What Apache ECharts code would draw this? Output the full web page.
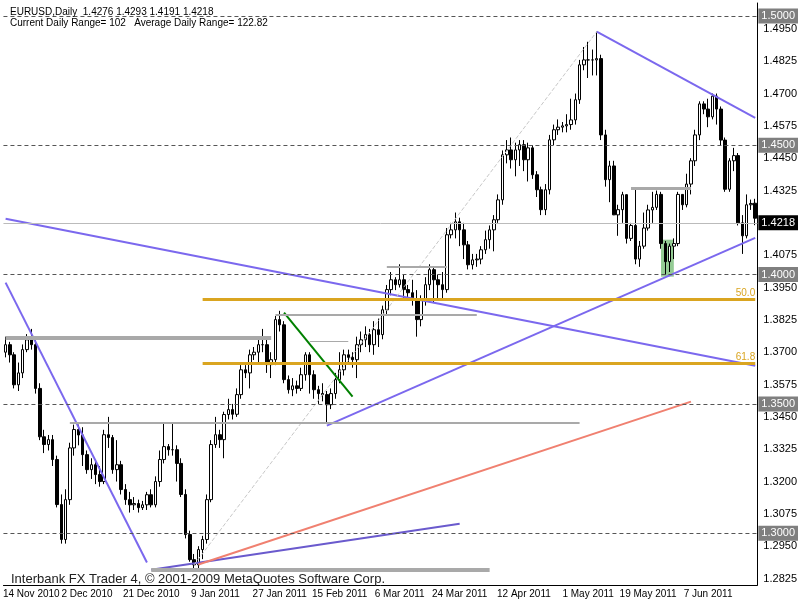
<!DOCTYPE html>
<html><head><meta charset="utf-8">
<script src="https://cdn.jsdelivr.net/npm/echarts@6/dist/echarts.min.js"></script>
<style>html,body{margin:0;padding:0;background:#fff}#c{width:800px;height:600px}</style>
</head><body><div id="c"></div>
<script>
const opens=[1.3700,1.3729,1.3690,1.3574,1.3620,1.3710,1.3748,1.3729,1.3560,1.3373,1.3343,1.3362,1.3285,1.3111,1.2976,1.3130,1.3330,1.3401,1.3380,1.3304,1.3246,1.3265,1.3227,1.3200,1.3381,1.3370,1.3246,1.3265,1.3169,1.3130,1.3110,1.3115,1.3099,1.3110,1.3149,1.3110,1.3200,1.3285,1.3335,1.3323,1.3323,1.3270,1.3150,1.2995,1.2898,1.2878,1.2937,1.2976,1.3130,1.3343,1.3381,1.3362,1.3459,1.3478,1.3460,1.3536,1.3632,1.3620,1.3690,1.3700,1.3729,1.3729,1.3652,1.3671,1.3826,1.3806,1.3594,1.3555,1.3570,1.3560,1.3613,1.3690,1.3613,1.3555,1.3540,1.3536,1.3497,1.3540,1.3594,1.3632,1.3690,1.3680,1.3671,1.3729,1.3748,1.3768,1.3729,1.3787,1.3768,1.3864,1.3942,1.3980,1.3961,1.3980,1.3942,1.3930,1.3903,1.3826,1.3903,1.3961,1.4019,1.3980,1.3961,1.3942,1.4154,1.4173,1.4204,1.4173,1.4115,1.4038,1.4057,1.4060,1.4096,1.4135,1.4173,1.4212,1.4289,1.4463,1.4482,1.4444,1.4482,1.4502,1.4444,1.4490,1.4386,1.4328,1.4251,1.4328,1.4521,1.4560,1.4570,1.4575,1.4580,1.4598,1.4676,1.4811,1.4830,1.4830,1.4830,1.4835,1.4540,1.4367,1.4420,1.4231,1.4251,1.4309,1.4140,1.4190,1.4060,1.4110,1.4180,1.4250,1.4260,1.4310,1.4120,1.4050,1.4110,1.4120,1.4310,1.4270,1.4350,1.4440,1.4540,1.4660,1.4640,1.4610,1.4690,1.4640,1.4520,1.4330,1.4440,1.4460,1.4200,1.4150,1.4270,1.4276];
const closes=[1.3729,1.3690,1.3574,1.3620,1.3710,1.3748,1.3729,1.3560,1.3373,1.3343,1.3362,1.3285,1.3111,1.2976,1.3130,1.3330,1.3401,1.3380,1.3304,1.3246,1.3265,1.3227,1.3200,1.3381,1.3370,1.3246,1.3265,1.3169,1.3130,1.3110,1.3115,1.3099,1.3110,1.3149,1.3110,1.3200,1.3285,1.3335,1.3323,1.3323,1.3270,1.3150,1.2995,1.2898,1.2878,1.2937,1.2976,1.3130,1.3343,1.3381,1.3362,1.3459,1.3478,1.3460,1.3536,1.3632,1.3620,1.3690,1.3700,1.3729,1.3729,1.3652,1.3671,1.3826,1.3806,1.3594,1.3555,1.3570,1.3560,1.3613,1.3690,1.3613,1.3555,1.3540,1.3536,1.3497,1.3540,1.3594,1.3632,1.3690,1.3680,1.3671,1.3729,1.3748,1.3768,1.3729,1.3787,1.3768,1.3864,1.3942,1.3980,1.3961,1.3980,1.3942,1.3930,1.3903,1.3826,1.3903,1.3961,1.4019,1.3980,1.3961,1.3942,1.4154,1.4173,1.4204,1.4173,1.4115,1.4038,1.4057,1.4060,1.4096,1.4135,1.4173,1.4212,1.4289,1.4463,1.4482,1.4444,1.4482,1.4502,1.4444,1.4490,1.4386,1.4328,1.4251,1.4328,1.4521,1.4560,1.4570,1.4575,1.4580,1.4598,1.4676,1.4811,1.4830,1.4830,1.4830,1.4835,1.4540,1.4367,1.4420,1.4231,1.4251,1.4309,1.4140,1.4190,1.4060,1.4110,1.4180,1.4250,1.4260,1.4310,1.4120,1.4050,1.4110,1.4120,1.4310,1.4270,1.4350,1.4440,1.4540,1.4660,1.4640,1.4610,1.4690,1.4640,1.4520,1.4330,1.4440,1.4460,1.4200,1.4150,1.4270,1.4275,1.4218];
const lows=[1.3680,1.3660,1.3560,1.3550,1.3600,1.3700,1.3710,1.3540,1.3360,1.3310,1.3320,1.3260,1.3100,1.2960,1.2960,1.3110,1.3300,1.3340,1.3260,1.3230,1.3210,1.3190,1.3180,1.3190,1.3330,1.3230,1.3200,1.3150,1.3110,1.3080,1.3090,1.3080,1.3090,1.3090,1.3100,1.3100,1.3180,1.3270,1.3300,1.3300,1.3200,1.3140,1.2980,1.2890,1.2860,1.2860,1.2900,1.2960,1.3120,1.3330,1.3330,1.3290,1.3440,1.3440,1.3450,1.3520,1.3600,1.3560,1.3670,1.3660,1.3700,1.3620,1.3600,1.3650,1.3780,1.3580,1.3540,1.3530,1.3540,1.3550,1.3590,1.3540,1.3520,1.3500,1.3510,1.3430,1.3480,1.3520,1.3580,1.3610,1.3660,1.3640,1.3600,1.3700,1.3720,1.3700,1.3690,1.3720,1.3750,1.3840,1.3920,1.3940,1.3950,1.3900,1.3900,1.3880,1.3760,1.3800,1.3880,1.3940,1.3890,1.3900,1.3900,1.3930,1.4140,1.4140,1.4110,1.4060,1.4020,1.4020,1.4030,1.4040,1.4080,1.4100,1.4090,1.4200,1.4270,1.4430,1.4410,1.4380,1.4420,1.4400,1.4360,1.4370,1.4300,1.4230,1.4230,1.4310,1.4500,1.4540,1.4550,1.4550,1.4560,1.4580,1.4660,1.4790,1.4760,1.4770,1.4770,1.4520,1.4340,1.4280,1.4230,1.4150,1.4200,1.4120,1.4130,1.4040,1.4030,1.4100,1.4170,1.4200,1.4250,1.4100,1.4000,1.4010,1.4060,1.4110,1.4250,1.4260,1.4310,1.4420,1.4520,1.4620,1.4570,1.4600,1.4580,1.4500,1.4320,1.4320,1.4400,1.4190,1.4080,1.4140,1.4250,1.4191];
const highs=[1.3760,1.3740,1.3700,1.3660,1.3730,1.3770,1.3790,1.3750,1.3580,1.3400,1.3380,1.3380,1.3300,1.3150,1.3170,1.3350,1.3420,1.3420,1.3410,1.3320,1.3290,1.3280,1.3260,1.3400,1.3450,1.3380,1.3360,1.3280,1.3190,1.3160,1.3140,1.3130,1.3125,1.3160,1.3170,1.3220,1.3320,1.3430,1.3345,1.3430,1.3340,1.3290,1.3170,1.3010,1.2920,1.2950,1.2990,1.3150,1.3360,1.3450,1.3400,1.3470,1.3520,1.3500,1.3560,1.3650,1.3650,1.3710,1.3720,1.3760,1.3790,1.3760,1.3700,1.3840,1.3860,1.3820,1.3610,1.3600,1.3590,1.3640,1.3700,1.3700,1.3630,1.3570,1.3580,1.3550,1.3560,1.3620,1.3700,1.3710,1.3710,1.3700,1.3760,1.3780,1.3800,1.3790,1.3820,1.3830,1.3880,1.3960,1.4010,1.3990,1.4040,1.4000,1.3960,1.3980,1.3940,1.3920,1.3990,1.4040,1.4030,1.4000,1.4010,1.4180,1.4200,1.4240,1.4220,1.4200,1.4130,1.4080,1.4080,1.4110,1.4170,1.4190,1.4230,1.4310,1.4480,1.4520,1.4530,1.4510,1.4520,1.4520,1.4510,1.4500,1.4400,1.4340,1.4350,1.4540,1.4580,1.4600,1.4590,1.4620,1.4680,1.4700,1.4830,1.4880,1.4900,1.4870,1.4939,1.4850,1.4560,1.4440,1.4440,1.4270,1.4320,1.4310,1.4200,1.4330,1.4130,1.4240,1.4270,1.4320,1.4325,1.4320,1.4130,1.4120,1.4140,1.4320,1.4310,1.4390,1.4450,1.4560,1.4670,1.4670,1.4680,1.4700,1.4700,1.4650,1.4530,1.4450,1.4490,1.4470,1.4230,1.4310,1.4290,1.4293];
const dateLabels={6:'14 Nov 2010',19:'2 Dec 2010',34:'21 Dec 2010',49:'9 Jan 2011',64:'27 Jan 2011',78:'15 Feb 2011',92:'6 Mar 2011',106:'24 Mar 2011',121:'12 Apr 2011',136:'1 May 2011',150:'19 May 2011',164:'7 Jun 2011'};
const priceTicks=['1.4950','1.4825','1.4700','1.4575','1.4450','1.4325','1.4075','1.3950','1.3825','1.3700','1.3575','1.3450','1.3325','1.3200','1.3075','1.2950','1.2825'];
const levelLines=[1.5000,1.4500,1.4000,1.3500,1.3000];
const lastPrice=1.4218;
// trend lines: [startIndex,startPrice,endIndex,endPrice,color,width,dash]
const trendLines=[
 [0,1.3969,33,1.2887,'#7b68ee',2,'solid'],
 [0,1.4216,175,1.3648,'#7b68ee',2,'solid'],
 [75,1.3416,175,1.4142,'#7b68ee',2,'solid'],
 [138,1.4939,175,1.4606,'#7b68ee',2,'solid'],
 [34,1.2859,106,1.3037,'#6a5acd',2,'solid'],
 [45,1.2879,160,1.3509,'#f08070',2,'solid'],
 [44,1.2878,138,1.4939,'#c8c8c8',1,'dashed'],
 [65,1.3853,81,1.3528,'#008000',2,'solid']
];
// grey horizontal zones: [startIndex,endIndex,price,width]
const greyLevels=[[0,62,1.3756,4],[15,134,1.3428,2],[34,113,1.2859,4],[89,103,1.4030,2],[63,110,1.3845,2],[71,80,1.3741,1],[146,160,1.4332,3]];
const fibLevels=[[46,1.3903,'50.0'],[46,1.3659,'61.8']];
const greenZone=[153,1.4135,156,1.3992];

const n=closes.length;
const cats=[];for(let i=0;i<n;i++)cats.push(dateLabels[i]||'');
const candles=opens.map((o,i)=>[o,closes[i],lows[i],highs[i]]);
const seg=(a,b,c,d,style,lab)=>{const s=[{coord:[a,b],lineStyle:style},{coord:[c,d]}];if(lab)s[0].label=lab;return s;};
const ml=[];
trendLines.forEach(t=>ml.push(seg(t[0],t[1],t[2],t[3],{color:t[4],width:t[5],type:t[6]},{show:false})));
greyLevels.forEach(g=>ml.push(seg(g[0],g[2],g[1],g[2],{color:'#a9a9a9',width:g[3],type:'solid'},{show:false})));
fibLevels.forEach(f=>ml.push(seg(f[0],f[1],n-1,f[1],{color:'#daa520',width:3,type:'solid'},{show:true,position:'insideEndTop',formatter:f[2],color:'#daa520',fontSize:10,distance:[0,1]})));
levelLines.forEach(v=>ml.push({yAxis:v,lineStyle:{color:'#555',width:1,type:[4,3]},label:{show:true,position:'end',formatter:v.toFixed(4),backgroundColor:'#7f7f7f',color:'#fff',fontSize:11,padding:[2,3],distance:1}}));
ml.push({yAxis:lastPrice,lineStyle:{color:'#bbb',width:1,type:'solid'},label:{show:true,position:'end',formatter:lastPrice.toFixed(4),backgroundColor:'#000',color:'#fff',fontSize:11,padding:[2,3],distance:1}});

const chart=echarts.init(document.getElementById('c'));
chart.setOption({
 animation:false,backgroundColor:'#fff',
 title:[{text:'EURUSD,Daily  1.4276 1.4293 1.4191 1.4218',left:5,top:2,textStyle:{fontSize:10,fontWeight:'normal',color:'#000',fontFamily:'Liberation Sans'}},
  {text:'Current Daily Range= 102   Average Daily Range= 122.82',left:5,top:13,textStyle:{fontSize:10,fontWeight:'normal',color:'#000',fontFamily:'Liberation Sans'}},
  {text:'Interbank FX Trader 4, © 2001-2009 MetaQuotes Software Corp.',left:6,top:568,textStyle:{fontSize:13,fontWeight:'normal',color:'#222',fontFamily:'Liberation Sans'}}],
 grid:{left:2,right:41,top:3,bottom:15},
 xAxis:{type:'category',data:cats,boundaryGap:true,
  axisLine:{lineStyle:{color:'#000'}},
  axisTick:{interval:(i,v)=>v!=='',length:4,lineStyle:{color:'#000'}},
  axisLabel:{interval:(i,v)=>v!=='',fontSize:10,color:'#000',margin:4,fontFamily:'Liberation Sans'},splitLine:{show:false}},
 yAxis:{type:'value',position:'right',min:1.2800,max:1.5050,interval:0.0025,scale:true,
  axisLine:{show:true,lineStyle:{color:'#000'}},axisTick:{show:false},splitLine:{show:false},
  axisLabel:{fontSize:11,color:'#000',margin:6,fontFamily:'Liberation Sans',formatter:v=>{const s=v.toFixed(4);return priceTicks.includes(s)?s:'';}}},
 series:[{type:'candlestick',data:candles,barWidth:3,
  itemStyle:{color:'#fff',color0:'#000',borderColor:'#000',borderColor0:'#000',borderWidth:1},
  markLine:{symbol:'none',silent:true,animation:false,data:ml},
  markArea:{silent:true,itemStyle:{color:'rgba(60,160,60,0.55)'},data:[[{coord:[greenZone[0],greenZone[1]]},{coord:[greenZone[2],greenZone[3]]}]]}
 }]
});
</script></body></html>
